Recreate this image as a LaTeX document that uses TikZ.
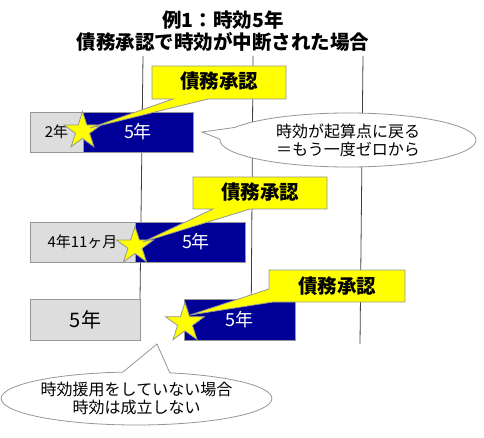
\documentclass[tikz,border=0pt]{standalone}
\usepackage{fontspec}
\setmainfont{Noto Sans CJK JP}
\usetikzlibrary{shapes.geometric,shapes.callouts}
\definecolor{navy}{RGB}{0,0,153}
\definecolor{boxgray}{RGB}{221,221,221}
\definecolor{edgegray}{RGB}{150,150,150}
\definecolor{linegray}{RGB}{64,64,64}
\definecolor{callyellow}{RGB}{255,255,0}
\begin{document}
\begin{tikzpicture}[x=1pt,y=-1pt,
  timeline/.style={draw=linegray, line width=0.8pt},
  graybox/.style={draw=edgegray, fill=boxgray, line width=0.8pt, inner sep=0pt, text=black},
  navybox/.style={draw=edgegray, fill=navy, line width=0.8pt, inner sep=0pt, text=white, font=\fontsize{18}{20}\selectfont},
  starmark/.style={star, star points=5, star point ratio=2.618, inner sep=0pt, draw=edgegray, fill=callyellow, line width=0.8pt},
  callbox/.style={draw=edgegray, fill=callyellow, line width=0.8pt, line join=miter},
  calltext/.style={font=\bfseries\fontsize{19.5}{22}\selectfont, inner sep=0pt},
  bubble/.style={ellipse callout, draw=edgegray, fill=white, line width=0.8pt, inner sep=0pt, align=center, font=\fontsize{16}{18}\selectfont},
  titletext/.style={font=\bfseries\fontsize{19.5}{22}\selectfont, inner sep=0pt}
]
\useasboundingbox (0,0) rectangle (484,438);

% title
\node[titletext] (title1) at (223,20) {例1：時効5年};
\node[titletext] (title2) at (223,41.5) {債務承認で時効が中断された場合};

% time lines
\coordinate (a1) at (143,56); \coordinate (a2) at (140,299);
\coordinate (b1) at (253,56); \coordinate (b2) at (251,340);
\coordinate (c1t) at (363,56); \coordinate (c2t) at (360,344);
\draw[timeline] (a1) -- (a2);
\draw[timeline] (b1) -- (b2);
\draw[timeline] (c1t) -- (c2t);

% bars
\node[graybox, minimum width=53, minimum height=40, font=\fontsize{15}{17}\selectfont] (g1) at (56.5,132) {2年};
\node[navybox, minimum width=110, minimum height=40] (n1) at (138,132) {5年};
\node[graybox, minimum width=105, minimum height=40, font=\fontsize{15}{17}\selectfont] (g2) at (82.5,242) {4年11ヶ月};
\node[navybox, minimum width=110, minimum height=40] (n2) at (190,242) {\hspace*{12pt}5年};
\node[graybox, minimum width=110, minimum height=41, font=\fontsize{20}{22}\selectfont] (g3) at (85.5,319.5) {5年};
\node[navybox, minimum width=111, minimum height=41] (n3) at (239.5,319.5) {5年};

% bubbles
\coordinate (p1) at (202,132);
\node[bubble, minimum width=256, minimum height=54, callout absolute pointer={(p1)}, callout pointer arc=26] (e1) at (348,140) {時効が起算点に戻る\\＝もう一度ゼロから};
\coordinate (p2) at (157,344);
\node[bubble, minimum width=253, minimum height=53, callout absolute pointer={(p2)}, callout pointer arc=20] (e2) at (136.5,398.5) {時効援用をしていない場合\\時効は成立しない};

% stars
\node[starmark, minimum size=39] (s1) at (82.5,131) {};
\node[starmark, minimum size=39] (s2) at (135,246) {};
\node[starmark, minimum size=41] (s3) at (185,323) {};

% callouts
\coordinate (t1) at (90,128);
\draw[callbox] (152,66) -- (286,66) -- (286,99) -- (208,99) -- (t1) -- (173,99) -- (152,99) -- cycle;
\node[calltext] (k1) at (219,81) {債務承認};

\coordinate (t2) at (143,242);
\draw[callbox] (193,177) -- (327,177) -- (327,209) -- (250,209) -- (t2) -- (213,209) -- (193,209) -- cycle;
\node[calltext] (k2) at (260,192) {債務承認};

\coordinate (t3) at (190,315);
\draw[callbox] (269,270) -- (405,270) -- (405,302) -- (273,302) -- (t3) -- (269,289) -- cycle;
\node[calltext] (k3) at (337,286) {債務承認};
\end{tikzpicture}
\end{document}
